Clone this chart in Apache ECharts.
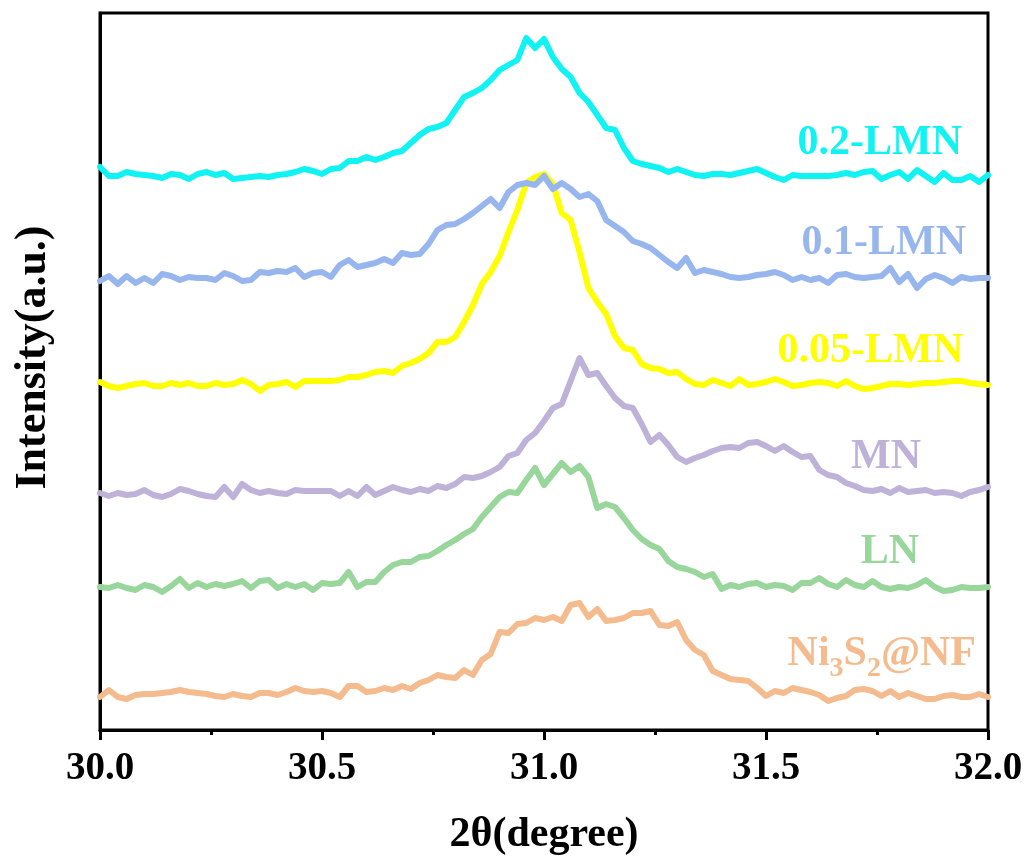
<!DOCTYPE html>
<html><head><meta charset="utf-8">
<script src="https://cdn.jsdelivr.net/npm/echarts@6/dist/echarts.min.js"></script>
<style>html,body{margin:0;padding:0;background:#fff}#c{width:1030px;height:862px}</style>
</head><body><div id="c"></div>
<script>
// 2θ sampling grid (degree), 0.02° step
const twoTheta = Array.from({length:101},(_,i)=>+(30+i*0.02).toFixed(2));
const xTickValues = [30.0, 30.5, 31.0, 31.5, 32.0];
const seriesNames = ['Ni3S2@NF','LN','MN','0.05-LMN','0.1-LMN','0.2-LMN'];
const seriesColors = ['#F4BC8E','#99D69B','#BFB2D9','#FFFF00','#97B6EE','#11F3F3'];

// Stacked (offset) intensities, a.u.
const ni3s2 = [33,40,33,31,35,36,36,37,38,40, 38,37,36,34,33,36,34,33,37,37, 35,38,42,39,38,39,37,33,44,44,
  38,39,42,40,44,41,47,50,55,53, 52,60,55,70,76,98,97,106,107,112, 110,113,109,125,127,113,121,109,110,112,
  117,117,119,105,104,108,90,80,75,59, 55,51,50,49,42,34,39,37,42,40, 38,35,29,32,34,40,41,39,34,39,
  33,37,34,31,31,34,35,33,33,36, 33];
const ln = [143,142,145,142,140,145,143,138,144,151, 142,147,143,146,144,146,149,142,149,150, 142,146,143,146,140,147,146,147,158,143,
  148,148,158,165,168,168,173,174,179,185, 190,196,201,213,223,233,238,237,250,262, 245,256,267,258,264,253,222,226,223,212,
  200,191,185,181,169,163,161,158,153,156, 141,145,143,146,147,143,145,144,140,147, 147,152,146,143,150,145,143,149,143,141,
  143,142,145,150,143,139,140,143,142,142, 143];
const mn = [237,234,237,235,236,240,235,233,236,241, 239,236,234,233,243,233,246,240,237,239, 237,236,240,239,239,239,239,234,239,234,
  243,235,239,243,240,238,241,239,244,242, 246,253,252,254,258,263,274,277,290,297, 309,322,326,349,372,355,357,344,332,324,
  322,306,288,295,285,273,268,272,275,279, 282,283,282,287,288,284,279,284,278,273, 274,260,255,253,247,244,240,239,241,237,
  242,238,239,240,237,238,237,234,238,240, 243];
const lmn005 = [348,344,342,344,346,347,344,344,347,345, 347,344,344,347,345,346,350,346,339,345, 346,348,343,349,349,349,349,350,353,353,
  355,358,359,357,364,367,371,377,388,388, 393,408,425,446,458,474,498,520,547,553, 556,546,517,510,478,442,428,416,394,382,
  380,366,362,361,357,358,351,346,345,350, 347,344,351,345,346,348,351,348,344,345, 347,348,347,344,349,344,341,342,344,346,
  346,345,346,347,347,348,349,349,347,346, 345];
const lmn01 = [449,454,446,454,447,452,447,456,454,450, 453,452,452,450,457,454,449,450,458,457, 459,458,462,453,457,458,453,465,470,463,
  465,467,471,467,477,475,476,486,500,505, 506,511,517,524,531,522,538,545,547,545, 554,541,547,541,533,536,529,510,504,498,
  489,486,482,475,468,462,472,457,460,458, 456,453,452,453,455,456,458,455,450,453, 450,452,447,455,456,453,452,453,454,462,
  448,456,442,451,455,452,447,453,451,452, 452];
const lmn02 = [563,554,554,558,556,555,554,552,556,555, 551,556,558,555,557,551,552,553,554,553, 555,556,558,561,559,556,561,562,
  569,569,573,570,573,577,579,587,595,601, 603,607,620,633,637,642,650,660,665,670, 692,682,691,673,661,653,637,628,615,602,
  600,582,569,566,564,562,558,561,558,555, 554,556,556,555,557,559,561,557,553,550, 555,554,554,554,554,555,557,555,558,559,
  551,555,558,551,560,554,548,557,550,550, 554,548,555];
const seriesData = [ni3s2, ln, mn, lmn005, lmn01, lmn02];

const serif = "'Liberation Serif','Times New Roman',serif";
const chart = echarts.init(document.getElementById('c'), null, {renderer:'canvas'});

const labelPos = [
  {x:976, y:655}, {x:919, y:552}, {x:921, y:457}, {x:963, y:351}, {x:966, y:243}, {x:962, y:143}
];
const graphics = seriesNames.map((n,k)=>{
  const base = {type:'text', x:labelPos[k].x, y:labelPos[k].y, z:100,
    style:{align:'right', verticalAlign:'middle', fill:seriesColors[k],
      fontFamily:serif, fontWeight:'bold', fontSize:42}};
  if (n === 'Ni3S2@NF') {
    base.style.text = '{m|Ni}{s|3}{m|S}{s|2}{m|@NF}';
    base.style.rich = {
      m:{fontFamily:serif, fontWeight:'bold', fontSize:42, fill:seriesColors[k], lineHeight:44, verticalAlign:'top'},
      s:{fontFamily:serif, fontWeight:'bold', fontSize:28, fill:seriesColors[k], lineHeight:30, padding:[22,0,0,0], verticalAlign:'top'}
    };
  } else {
    base.style.text = n;
  }
  return base;
});

chart.setOption({
  animation:false,
  backgroundColor:'#fff',
  grid:{left:100, right:42, top:13, bottom:132, show:true, borderColor:'#000', borderWidth:3, containLabel:false},
  xAxis:{type:'value', min:30, max:32, interval:0.5,
    axisLine:{show:true, onZero:false, lineStyle:{color:'#000', width:3}},
    axisTick:{show:true, inside:false, length:10, lineStyle:{color:'#000', width:3}},
    minorTick:{show:true, splitNumber:2, length:5, lineStyle:{color:'#000', width:3}},
    splitLine:{show:false},
    axisLabel:{margin:19, color:'#000', fontFamily:serif, fontWeight:'bold', fontSize:39,
      formatter:v=>xTickValues.indexOf(+v.toFixed(1))>=0 ? v.toFixed(1) : ''},
    name:'2θ(degree)', nameLocation:'middle', nameGap:84,
    nameTextStyle:{color:'#000', fontFamily:serif, fontWeight:'bold', fontSize:42}
  },
  yAxis:{type:'value', min:0, max:717,
    axisLine:{show:true, lineStyle:{color:'#000', width:3}},
    axisTick:{show:false}, axisLabel:{show:false}, splitLine:{show:false},
    name:'Intensity(a.u.)', nameLocation:'middle', nameGap:44,
    nameTextStyle:{color:'#000', fontFamily:serif, fontWeight:'bold', fontSize:44, padding:[0,0,0,28]}
  },
  series: seriesNames.map((n,k)=>({
    name:n, type:'line', showSymbol:false, symbol:'none', smooth:false,
    lineStyle:{color:seriesColors[k], width:6, join:'round', cap:'round'},
    itemStyle:{color:seriesColors[k]},
    data: twoTheta.map((x,i)=>[x, seriesData[k][i]])
  })),
  graphic: graphics
});
</script></body></html>
